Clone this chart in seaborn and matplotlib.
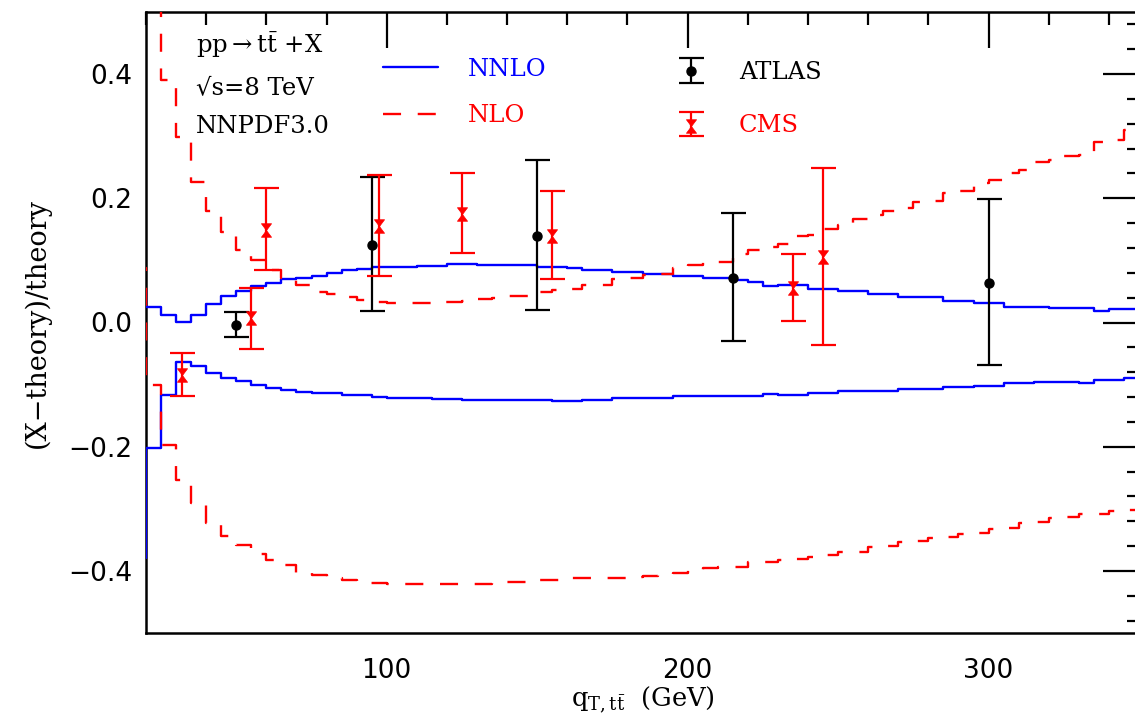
import matplotlib
matplotlib.use("Agg")
import matplotlib.pyplot as plt
import seaborn as sns
import pandas as pd
from matplotlib.path import Path
from matplotlib.ticker import MultipleLocator
from matplotlib.lines import Line2D

# ---------------- data ----------------
# 5-GeV bin edges; the first bin (15-20) lies just left of the frame
edges = [15, 20, 25, 30, 35, 40, 45, 50, 55, 60, 65, 70, 75, 80, 85, 90, 95, 100,
         105, 110, 115, 120, 125, 130, 135, 140, 145, 150, 155, 160, 165, 170, 175,
         180, 185, 190, 195, 200, 205, 210, 215, 220, 225, 230, 235, 240, 245, 250,
         255, 260, 265, 270, 275, 280, 285, 290, 295, 300, 305, 310, 315, 320, 325,
         330, 335, 340, 345, 350]

nnlo_up = [0.052, 0.025, 0.012, 0.001, 0.012, 0.030, 0.042, 0.051, 0.058, 0.063,
           0.070, 0.072, 0.075, 0.079, 0.084, 0.086, 0.089, 0.090, 0.090, 0.091,
           0.091, 0.094, 0.094, 0.093, 0.093, 0.092, 0.092, 0.090, 0.090, 0.087,
           0.084, 0.084, 0.081, 0.081, 0.078, 0.078, 0.075, 0.075, 0.071, 0.071,
           0.069, 0.065, 0.058, 0.061, 0.061, 0.054, 0.054, 0.051, 0.051, 0.046,
           0.046, 0.041, 0.041, 0.041, 0.034, 0.034, 0.031, 0.031, 0.025, 0.025,
           0.025, 0.024, 0.024, 0.024, 0.019, 0.021, 0.021]

nnlo_lo = [-0.380, -0.202, -0.117, -0.064, -0.070, -0.081, -0.090, -0.095, -0.101, -0.106,
           -0.109, -0.112, -0.114, -0.114, -0.117, -0.117, -0.120, -0.121, -0.121, -0.121,
           -0.123, -0.123, -0.125, -0.125, -0.125, -0.125, -0.125, -0.125, -0.126, -0.126,
           -0.125, -0.125, -0.122, -0.122, -0.122, -0.122, -0.119, -0.119, -0.119, -0.119,
           -0.119, -0.119, -0.115, -0.117, -0.117, -0.113, -0.113, -0.111, -0.111, -0.110,
           -0.110, -0.107, -0.107, -0.107, -0.104, -0.104, -0.102, -0.102, -0.098, -0.098,
           -0.096, -0.096, -0.096, -0.098, -0.092, -0.093, -0.089]

nlo_up = [0.650, 0.600, 0.391, 0.298, 0.227, 0.179, 0.146, 0.117, 0.101, 0.085,
          0.072, 0.060, 0.049, 0.046, 0.041, 0.036, 0.033, 0.031, 0.031, 0.031,
          0.033, 0.033, 0.034, 0.038, 0.040, 0.042, 0.043, 0.049, 0.053, 0.054,
          0.060, 0.060, 0.070, 0.071, 0.077, 0.078, 0.088, 0.092, 0.097, 0.098,
          0.111, 0.116, 0.122, 0.127, 0.140, 0.141, 0.150, 0.157, 0.167, 0.173,
          0.180, 0.185, 0.194, 0.195, 0.208, 0.211, 0.225, 0.230, 0.240, 0.246,
          0.258, 0.262, 0.268, 0.270, 0.290, 0.294, 0.310]

nlo_lo = [0.087, -0.101, -0.198, -0.254, -0.291, -0.323, -0.343, -0.359, -0.372, -0.383,
          -0.391, -0.404, -0.407, -0.412, -0.414, -0.419, -0.419, -0.421, -0.421, -0.421,
          -0.421, -0.421, -0.421, -0.421, -0.420, -0.418, -0.418, -0.415, -0.414, -0.412,
          -0.412, -0.412, -0.412, -0.410, -0.409, -0.406, -0.404, -0.398, -0.396, -0.394,
          -0.393, -0.386, -0.385, -0.382, -0.381, -0.377, -0.375, -0.370, -0.369, -0.362,
          -0.360, -0.354, -0.352, -0.347, -0.346, -0.340, -0.339, -0.332, -0.331, -0.323,
          -0.322, -0.315, -0.314, -0.309, -0.308, -0.303, -0.302]

atlas_x = [50, 95, 150, 215, 300]
atlas_y = [-0.004, 0.125, 0.140, 0.072, 0.063]
atlas_lo = [-0.024, 0.019, 0.020, -0.029, -0.069]
atlas_hi = [0.017, 0.235, 0.261, 0.176, 0.199]

cms_x = [32, 55, 60, 97.5, 125, 155, 235, 245]
cms_y = [-0.085, 0.007, 0.149, 0.156, 0.175, 0.140, 0.055, 0.105]
cms_lo = [-0.119, -0.042, 0.084, 0.075, 0.112, 0.070, 0.003, -0.036]
cms_hi = [-0.049, 0.055, 0.216, 0.238, 0.241, 0.211, 0.110, 0.248]

# ---------------- style ----------------
sns.set_style("white")
plt.rcParams["font.family"] = ["DejaVu Sans"]
plt.rcParams["mathtext.fontset"] = "dejavuserif"
plt.rcParams["lines.scale_dashes"] = False
plt.rcParams["text.color"] = "black"
plt.rcParams["axes.labelcolor"] = "black"
SERIF = ["DejaVu Serif"]
BLUE = "#0000ff"
RED = "#ff0000"
FS = 17.5

fig = plt.figure(figsize=(11.35, 7.26), dpi=100)
ax = fig.add_axes([146 / 1135, 93 / 726, 993 / 1135, 621 / 726])


def stepcurve(vals, color, ls):
    df = pd.DataFrame({"x": edges, "y": list(vals) + [vals[-1]]})
    sns.lineplot(data=df, x="x", y="y", drawstyle="steps-post", estimator=None,
                 sort=False, color=color, linewidth=1.7, linestyle=ls, ax=ax,
                 zorder=3)


DASH = (0, (13, 12))
stepcurve(nnlo_up, BLUE, "-")
stepcurve(nnlo_lo, BLUE, "-")
stepcurve(nlo_up, RED, DASH)
stepcurve(nlo_lo, RED, DASH)

hourglass = Path([(-0.75, 1), (0.75, 1), (-0.75, -1), (0.75, -1), (-0.75, 1)],
                 [Path.MOVETO, Path.LINETO, Path.LINETO, Path.LINETO, Path.CLOSEPOLY])

atl_err = [[y - l for y, l in zip(atlas_y, atlas_lo)], [h - y for y, h in zip(atlas_y, atlas_hi)]]
cms_err = [[y - l for y, l in zip(cms_y, cms_lo)], [h - y for y, h in zip(cms_y, cms_hi)]]

eb_atlas = ax.errorbar(atlas_x, atlas_y, yerr=atl_err, fmt="o", color="black", ms=6.5,
                       capsize=9, elinewidth=1.6, capthick=1.6, zorder=4)
eb_cms = ax.errorbar(cms_x, cms_y, yerr=cms_err, fmt="none", ecolor=RED,
                     capsize=9, elinewidth=1.6, capthick=1.6, zorder=4)
sns.scatterplot(x=cms_x, y=cms_y, marker=hourglass, color=RED, s=95, linewidth=0.5,
                edgecolor=RED, ax=ax, zorder=5)
cms_markers = ax.collections[-1]

# ---------------- axes ----------------
ax.set_xlim(20, 350)
ax.set_ylim(-0.5, 0.5)
ax.xaxis.set_major_locator(MultipleLocator(100))
ax.xaxis.set_minor_locator(MultipleLocator(20))
ax.yaxis.set_major_locator(MultipleLocator(0.2))
ax.yaxis.set_minor_locator(MultipleLocator(0.04))
ax.tick_params(which="both", direction="in", top=True, right=True, width=1.6,
               colors="black", labelsize=19)
ax.tick_params(which="major", length=26)
ax.tick_params(which="minor", length=9)
ax.tick_params(axis="x", which="major", pad=18)
ax.tick_params(axis="y", which="major", pad=10)
for s in ax.spines.values():
    s.set_linewidth(1.8)
    s.set_color("black")

ax.set_xlabel(r"q$_{\mathrm{T,t\bar{t}}}$  (GeV)", family=SERIF, fontsize=18.5,
              labelpad=0, color="black")
ax.set_ylabel("(X\u2212theory)/theory", family=SERIF, fontsize=19.5, labelpad=12,
              color="black")

# annotations
tx = dict(family=SERIF, fontsize=FS, transform=ax.transAxes, va="center", ha="left",
          color="black")
ax.text(0.050, 0.947, r"pp$\rightarrow$t$\mathrm{\bar{t}}$ +X", **tx)
ax.text(0.050, 0.878, "\u221as=8 TeV", **tx)
ax.text(0.050, 0.815, "NNPDF3.0", **tx)

# legends
h_nnlo = Line2D([], [], color=BLUE, lw=1.7)
h_nlo = Line2D([], [], color=RED, lw=1.7, linestyle=(0, (13, 12)))
leg1 = ax.legend([h_nnlo, h_nlo], ["NNLO", "NLO"], loc="upper left",
                 bbox_to_anchor=(0.2387, 0.926), frameon=False, borderpad=0,
                 borderaxespad=0, handlelength=2.25, handletextpad=1.23,
                 labelspacing=0.95, labelcolor=[BLUE, RED],
                 prop=dict(family=SERIF, size=FS))
ax.add_artist(leg1)
leg2 = ax.legend([eb_atlas, (eb_cms, cms_markers)], ["ATLAS", "CMS"], loc="upper left",
                 bbox_to_anchor=(0.5257, 0.921), frameon=False, borderpad=0,
                 borderaxespad=0, handlelength=1.85, handletextpad=1.07,
                 labelspacing=1.25, labelcolor=["black", RED],
                 prop=dict(family=SERIF, size=FS))

fig.savefig("out.png", dpi=100)
